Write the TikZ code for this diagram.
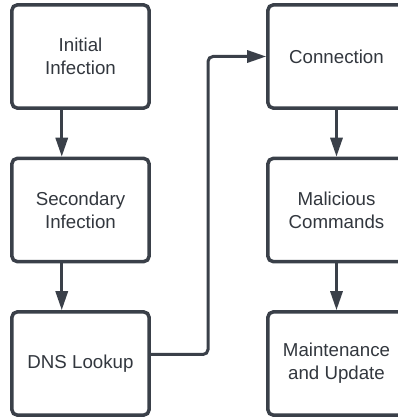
\documentclass[tikz,border=0pt]{standalone}
\usepackage{fontspec}
\setmainfont{Liberation Sans}
\usetikzlibrary{arrows.meta,positioning,calc}
\definecolor{lc}{HTML}{3A4049}
\definecolor{tc}{HTML}{32373E}
\tikzset{
  box/.style={draw=lc, line width=3.5bp, rounded corners=5bp, fill=white,
    minimum width=137bp, minimum height=103bp, inner sep=0pt, align=center,
    text=tc, font=\fontsize{18.7bp}{23bp}\selectfont},
  conn/.style={draw=lc, line width=3bp, -{Triangle[length=19bp,width=12bp]}},
  link/.style={draw=lc, line width=3bp, rounded corners=5bp, -{Triangle[length=19bp,width=12bp]}}
}
\begin{document}
\begin{tikzpicture}[x=1bp,y=1bp]
\useasboundingbox (0,0) rectangle (398,417);
\clip (0,0) rectangle (398,417);
\node[box] (a) at (80.5,360.5) {Initial\\Infection};
\node[box] (b) at (80.5,207) {Secondary\\Infection};
\node[box] (c) at (80.5,53.5) {DNS Lookup};
\node[box] (d) at (336.5,360.5) {Connection};
\node[box] (e) at (336.5,207) {Malicious\\Commands};
\node[box] (f) at (336.5,53.5) {Maintenance\\and Update};
\draw[conn] ([xshift=51.5bp]a.south west) -- ([xshift=51.5bp]b.north west);
\draw[conn] ([xshift=51.5bp]b.south west) -- ([xshift=51.5bp]c.north west);
\draw[conn] (d.south) -- (e.north);
\draw[conn] (e.south) -- (f.north);
\coordinate (k) at (208,0);
\draw[link] ([yshift=9bp]c.east) -- ([yshift=9bp]c.east -| k) -- (k |- d.west) -- (d.west);
\end{tikzpicture}
\end{document}
